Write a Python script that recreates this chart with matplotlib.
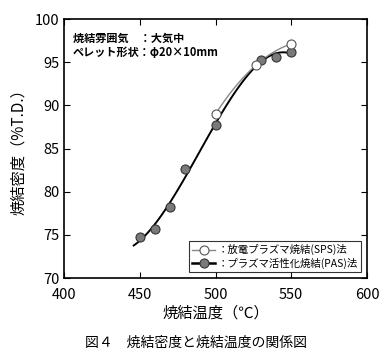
import numpy as np
import matplotlib.pyplot as plt

plt.rcParams['font.family'] = ['Noto Sans CJK JP', 'DejaVu Sans']

# data
sps_temp = [500, 527, 550]
sps_dens = [89.0, 94.7, 97.1]
pas_temp = [450, 460, 470, 480, 500, 530, 540, 550]
pas_dens = [74.7, 75.7, 78.2, 82.6, 87.7, 95.2, 95.6, 96.2]

fig = plt.figure(figsize=(3.92, 3.61), dpi=100)
ax = fig.add_axes([64/392, 1-278/361, 303/392, 259/361])

# smooth trend lines
cp = np.polyfit(pas_temp, pas_dens, 3)
tp = np.linspace(446, 550, 100)
cs = np.polyfit(sps_temp, sps_dens, 2)
ts = np.linspace(500, 550, 60)

ax.plot(ts, np.polyval(cs, ts), color='#888888', lw=1.0, zorder=2)
ax.plot(tp, np.polyval(cp, tp), color='black', lw=1.4, zorder=1)
ax.plot(pas_temp, pas_dens, 'o', ms=6.5, mfc='#7a7a7a', mec='#333333', mew=0.8, zorder=3)
ax.plot(sps_temp, sps_dens, 'o', ms=6.5, mfc='white', mec='#555555', mew=0.8, zorder=4)

# legend handles
h1, = ax.plot([], [], '-o', color='#888888', lw=1.0, ms=6.5, mfc='white', mec='#555555', mew=0.8)
h2, = ax.plot([], [], '-o', color='black', lw=1.8, ms=6.5, mfc='#7a7a7a', mec='#333333', mew=0.8)
leg = ax.legend([h1, h2], ['：放電プラズマ焼結(SPS)法', '：プラズマ活性化焼結(PAS)法'],
                loc='lower right', fontsize=7.5, frameon=True, fancybox=False,
                edgecolor='black', borderpad=0.3, handlelength=2.2, handletextpad=0.2,
                labelspacing=0.2, borderaxespad=0.6)
leg.get_frame().set_linewidth(0.8)

ax.set_xlim(400, 600)
ax.set_ylim(70, 100)
ax.set_xticks([400, 450, 500, 550, 600])
ax.set_yticks([70, 75, 80, 85, 90, 95, 100])
ax.tick_params(direction='in', top=True, right=True, length=4, labelsize=10.5, pad=3)
ax.tick_params(axis='x', pad=7)
for s in ax.spines.values():
    s.set_linewidth(1.2)

ax.set_xlabel('焼結温度（℃）', fontsize=11, labelpad=2)
ax.set_ylabel('焼結密度（%T.D.）', fontsize=11, labelpad=6)

ax.text(0.03, 0.95, '焼結雰囲気　：大気中\nペレット形状：φ20×10mm', transform=ax.transAxes,
        fontsize=8, fontweight='bold', va='top', ha='left', linespacing=1.1)

fig.text(0.5, 1-343/361, '図４　焼結密度と焼結温度の関係図', ha='center', va='center', fontsize=10)

fig.savefig('out.png', dpi=100)
